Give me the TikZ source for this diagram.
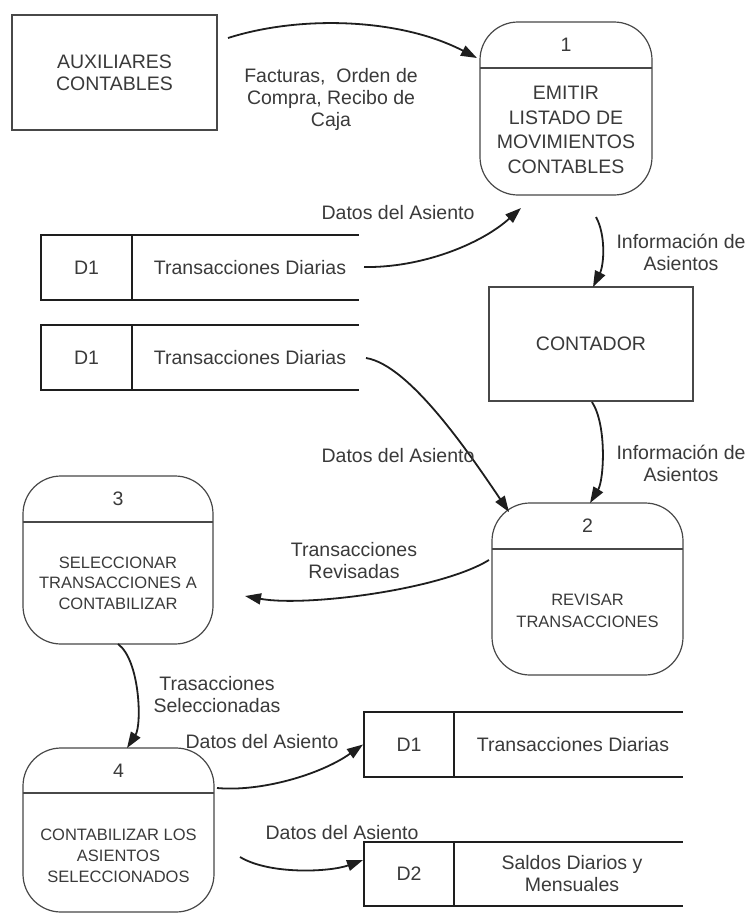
\documentclass[tikz,border=0pt]{standalone}
\usepackage{fontspec}
\setmainfont{Liberation Sans}
\usetikzlibrary{arrows.meta}
\definecolor{ink}{HTML}{1E1E1E}
\definecolor{txt}{HTML}{3A3A3A}
\definecolor{edge}{HTML}{484848}
\newcommand\fntA{\fontsize{19.5}{22}\selectfont}
\newcommand\fntP{\fontsize{19.5}{24.5}\selectfont}
\newcommand\fntS{\fontsize{16.5}{21}\selectfont}
\newcommand\fntL{\fontsize{19.5}{22}\selectfont}
\begin{document}
\begin{tikzpicture}[x=1pt,y=-1pt,
  every node/.style={text=txt, font=\fntA, inner sep=0pt, outer sep=0pt},
  entity/.style={draw=edge, line width=1.2pt, align=center},
  proc/.style={draw=edge, line width=1.2pt, rounded corners=38pt},
  procline/.style={draw=edge, line width=1.2pt},
  idbox/.style={draw=ink, line width=1.8pt, minimum width=91pt},
  storeline/.style={draw=ink, line width=1.8pt},
  flow/.style={draw=ink, line width=1.8pt, -{Triangle[length=16pt,width=11pt]}},
  lbl/.style={align=center, font=\fntL},
  body/.style={align=center, font=\fntS}
]
\fill[white] (0,0) rectangle (750,914);
\useasboundingbox (0,0) rectangle (750,914);

% external entities
\node[entity, minimum width=205pt, minimum height=115pt] (aux) at (114.5,72.5) {AUXILIARES\\CONTABLES};
\node[entity, minimum width=204pt, minimum height=114pt] (con) at (591,344) {CONTADOR};

% process 1
\node[proc, minimum width=172pt, minimum height=173pt] (p1) at (566,108.5) {};
\draw[procline] ([shift={(0,46)}]p1.north west) -- ([shift={(0,46)}]p1.north east);
\node (p1n) at (566,45) {1};
\node[align=center, font=\fntP] (p1b) at (566,130) {EMITIR\\LISTADO DE\\MOVIMIENTOS\\CONTABLES};

% process 2
\node[proc, minimum width=191pt, minimum height=172pt] (p2) at (587.5,589) {};
\draw[procline] ([shift={(0,46)}]p2.north west) -- ([shift={(0,46)}]p2.north east);
\node (p2n) at (587.5,526) {2};
\node[body, font=\fontsize{16.5}{22}\selectfont] (p2b) at (587.5,611) {REVISAR\\TRANSACCIONES};

% process 3
\node[proc, minimum width=190pt, minimum height=168pt] (p3) at (118,560) {};
\draw[procline] ([shift={(0,46)}]p3.north west) -- ([shift={(0,46)}]p3.north east);
\node (p3n) at (118,498.5) {3};
\node[body, font=\fontsize{16.5}{20.5}\selectfont] (p3b) at (118,583) {SELECCIONAR\\TRANSACCIONES A\\CONTABILIZAR};

% process 4
\node[proc, minimum width=191pt, minimum height=164pt] (p4) at (118.5,830) {};
\draw[procline] ([shift={(0,45)}]p4.north west) -- ([shift={(0,45)}]p4.north east);
\node (p4n) at (118.5,770.5) {4};
\node[body] (p4b) at (118.5,856) {CONTABILIZAR LOS\\ASIENTOS\\SELECCIONADOS};

% data stores
\node[idbox, minimum height=65pt] (s1id) at (86.5,267.5) {D1};
\draw[storeline] (s1id.north east) -- ++(227,0);
\draw[storeline] (s1id.south east) -- ++(227,0);
\node (s1t) at (250,267.5) {Transacciones Diarias};

\node[idbox, minimum height=65pt] (s2id) at (86.5,357.5) {D1};
\draw[storeline] (s2id.north east) -- ++(227,0);
\draw[storeline] (s2id.south east) -- ++(227,0);
\node (s2t) at (250,357.5) {Transacciones Diarias};

\node[idbox, minimum width=90pt, minimum height=65pt] (s3id) at (409,744.5) {D1};
\draw[storeline] (s3id.north east) -- ++(229,0);
\draw[storeline] (s3id.south east) -- ++(229,0);
\node (s3t) at (573,744.5) {Transacciones Diarias};

\node[idbox, minimum width=90pt, minimum height=64pt] (s4id) at (409,874) {D2};
\draw[storeline] (s4id.north east) -- ++(229,0);
\draw[storeline] (s4id.south east) -- ++(229,0);
\node[align=center] (s4t) at (572,874) {Saldos Diarios y\\Mensuales};

% flows
\draw[flow] ([shift={(11,23)}]aux.north east) .. controls (300,15) and (400,18) .. ([shift={(-3,36)}]p1.north west);
\draw[flow] ([shift={(232,32)}]s1id.north east) .. controls (420,268) and (480,245) .. ([shift={(41,13)}]p1.south west);
\draw[flow] ([shift={(30,22)}]p1.south) .. controls (606,235) and (604,265) .. ([shift={(2,0)}]con.north);
\draw[flow] ([shift={(234,33)}]s2id.north east) .. controls (410,365) and (471,456) .. ([shift={(17,9)}]p2.north west);
\draw[flow] ([shift={(1,1)}]con.south) .. controls (607,425) and (604,480) .. ([shift={(2.5,0)}]p2.north);
\draw[flow] ([shift={(-3,57)}]p2.north west) .. controls (440,590) and (305,607) .. ([shift={(32,36)}]p3.east);
\draw[flow] (p3.south) .. controls (140,660) and (142,725) .. ([shift={(8.5,0)}]p4.north);
\draw[flow] ([shift={(3,40)}]p4.north east) .. controls (260,792) and (320,775) .. ([shift={(-1,0)}]s3id.west);
\draw[flow] ([shift={(26,27)}]p4.east) .. controls (270,875) and (330,872) .. ([shift={(-1,-14)}]s4id.west);

% flow labels
\node[lbl] (l1) at (331,99) {Facturas,\ \ Orden de\\Compra, Recibo de\\Caja};
\node[lbl] (l2) at (398,213) {Datos del Asiento};
\node[lbl] (l3) at (681,252) {Información de\\Asientos};
\node[lbl] (l4) at (398,456) {Datos del Asiento};
\node[lbl] (l5) at (681,463) {Información de\\Asientos};
\node[lbl] (l6) at (354,561) {Transacciones\\Revisadas};
\node[lbl] (l7) at (217,695) {Trasacciones\\Seleccionadas};
\node[lbl] (l8) at (262,742) {Datos del Asiento};
\node[lbl] (l9) at (342,833) {Datos del Asiento};
\end{tikzpicture}
\end{document}
